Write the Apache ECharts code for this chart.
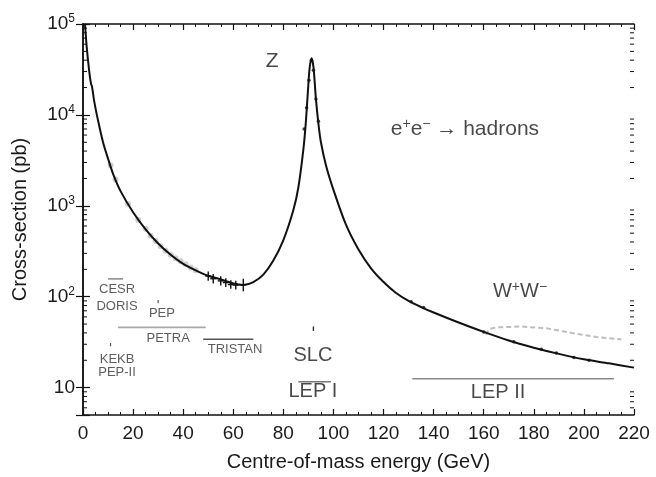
<!DOCTYPE html>
<html>
<head>
<meta charset="utf-8">
<script src="https://cdn.jsdelivr.net/npm/echarts@6/dist/echarts.min.js"></script>
<style>
  html, body { margin: 0; padding: 0; background: #fff; }
  #chart { width: 656px; height: 477px; }
</style>
</head>
<body>
<div id="chart"></div>
<script>
// e+e- -> hadrons cross-section (pb) versus centre-of-mass energy (GeV)
const energy = [0.8, 1.5, 2.5, 3.2, 3.6, 4.5, 6, 8, 10, 12, 15, 20, 25, 30, 35, 40, 45, 50, 55, 60, 64, 68, 72, 76, 80, 84, 86, 88, 89, 90, 90.5, 91.2, 92, 93, 94, 95, 97, 100, 105, 110, 115, 120, 125, 130, 135, 140, 150, 160, 170, 180, 190, 200, 210, 220];
const sigma  = [100000, 55000, 30000, 22000, 20500, 14000, 8700, 5000, 3300, 2250, 1450, 850, 550, 385, 290, 230, 195, 170, 155, 140, 135, 145, 175, 250, 420, 900, 1600, 4200, 8500, 22000, 33000, 42000, 34000, 15000, 8000, 5000, 2800, 1500, 620, 330, 205, 145, 110, 90, 77, 67, 52, 41, 33, 27.5, 23.5, 20.5, 18.5, 16.6];

// W+W- channel (grey)
const wwEnergy = [161, 162, 165, 175, 185, 195, 205, 215];
const wwSigma  = [38, 44, 46, 47, 45, 40, 36, 34];

// measured points lying on the curve
const greyPoints = [[11, 2800], [13, 1950], [18, 1050], [22, 700], [25, 560], [27, 470], [29, 410], [31, 360], [33, 320], [35, 290], [37, 265], [39, 245], [41, 228], [43, 210], [45, 195]];
const blackPoints = [[88.3, 7000], [89.3, 12000], [90.2, 24000], [91.2, 40000], [92, 31000], [93, 15000], [94, 8500], [131, 88], [136, 76], [160, 41], [172, 32], [183, 26.5], [189, 24], [196, 21.5], [202, 20]];
// [energy, low, high] error bars around the TRISTAN energies
const errorBars = [[50, 150, 190], [52, 140, 178], [55, 133, 168], [57, 128, 160], [59, 122, 152], [61, 120, 150], [64, 115, 158]];

// machine energy ranges and single-energy markers
const cesrRange    = [[10, 157], [16, 157]];
const petraRange   = [[14, 46], [49, 46]];
const tristanRange = [[48, 34], [68, 34]];
const lep1Range    = [[86, 11.6], [99, 11.6]];
const lep2Range    = [[131.5, 12.5], [212, 12.5]];
const pepMark      = [[30, 85], [30, 92]];
const kekbMark     = [[11, 28.6], [11, 31]];
const slcMark      = [[92, 42], [92, 47]];

// annotation text: [energy, sigma, text, size]
const bigLabels = [
  [75.5, 38600, 'Z', 21],
  [152.5, 7050, 'e{s|+}e{s|−} → hadrons', 21],
  [174.5, 113, 'W{s|+}W{s|−}', 20],
  [91.8, 22.3, 'SLC', 20],
  [91.8, 9.05, 'LEP I', 20],
  [165.7, 8.8, 'LEP II', 20]
];
const smallLabels = [
  [13.6, 119, 'CESR'],
  [13.6, 78, 'DORIS'],
  [31.5, 65, 'PEP'],
  [34, 35, 'PETRA'],
  [60.7, 26.5, 'TRISTAN'],
  [13.6, 20.6, 'KEKB'],
  [13.6, 14.6, 'PEP-II']
];

const xTicks = { min: 0, max: 220, interval: 20 };
const yRange = { min: 5, max: 100000 };

// log minor ticks 2..9 per decade
const minorTickValues = [];
for (let e = 0; e <= 4; e++) {
  for (let k = 2; k <= 9; k++) {
    const v = k * Math.pow(10, e);
    if (v > yRange.min && v < yRange.max) minorTickValues.push([0, v]);
  }
}

const FONT = '"Liberation Sans", Arial, sans-serif';
const INK = '#1a1a1a';
const chart = echarts.init(document.getElementById('chart'), null, { renderer: 'canvas' });

function yLabel(v) {
  const lg = Math.log10(v);
  const e = Math.round(lg);
  if (Math.abs(lg - e) > 1e-6) return '';
  if (e === 1) return '{b|10}';
  return '{b|10}{s|' + e + '}';
}

const rangeStyle = (color, w) => ({ type: 'line', symbol: 'none', silent: true, lineStyle: { color: color, width: w }, z: 3 });

const option = {
  animation: false,
  backgroundColor: '#fff',
  grid: { left: 83, right: 22, top: 24, bottom: 57 },
  xAxis: [{
    type: 'value', min: xTicks.min, max: xTicks.max, interval: xTicks.interval,
    name: 'Centre-of-mass energy (GeV)', nameLocation: 'middle', nameGap: 37,
    nameTextStyle: { fontFamily: FONT, fontSize: 20, color: INK },
    axisLine: { show: true, lineStyle: { color: '#111', width: 1.5 } },
    axisTick: { show: true, inside: true, length: 6, lineStyle: { color: '#111', width: 1.2 } },
    minorTick: { show: true, splitNumber: 4, length: 3, lineStyle: { color: '#111', width: 1 } },
    axisLabel: { fontFamily: FONT, fontSize: 19, color: INK, margin: 9 },
    splitLine: { show: false }
  }, {
    type: 'value', position: 'top', min: xTicks.min, max: xTicks.max, interval: xTicks.interval,
    axisLine: { show: true, lineStyle: { color: '#111', width: 1.5 } },
    axisTick: { show: true, inside: true, length: 6, lineStyle: { color: '#111', width: 1.2 } },
    minorTick: { show: true, splitNumber: 4, length: 3, lineStyle: { color: '#111', width: 1 } },
    axisLabel: { show: false }, splitLine: { show: false }
  }],
  yAxis: [{
    type: 'log', logBase: 10, min: yRange.min, max: yRange.max,
    name: 'Cross-section (pb)', nameLocation: 'middle', nameGap: 53,
    nameTextStyle: { fontFamily: FONT, fontSize: 20, color: INK },
    axisLine: { show: true, lineStyle: { color: '#111', width: 1.5 } },
    axisTick: { show: true, inside: true, length: 7, lineStyle: { color: '#111', width: 1.2 } },
    axisLabel: {
      fontFamily: FONT, color: INK, margin: 8, formatter: yLabel,
      rich: {
        b: { fontFamily: FONT, fontSize: 19, color: INK, lineHeight: 22 },
        s: { fontFamily: FONT, fontSize: 12, color: INK, lineHeight: 22, verticalAlign: 'top', padding: [0, 0, 9, 0] }
      }
    },
    splitLine: { show: false }
  }, {
    type: 'log', logBase: 10, min: yRange.min, max: yRange.max, position: 'right',
    axisLine: { show: true, lineStyle: { color: '#111', width: 1.5 } },
    axisTick: { show: true, inside: true, length: 7, lineStyle: { color: '#111', width: 1.2 } },
    axisLabel: { show: false }, splitLine: { show: false }
  }],
  series: [
    // log minor ticks on the left and right frame edges
    {
      type: 'custom', silent: true, z: 5,
      data: minorTickValues,
      renderItem: function (params, api) {
        const v = api.value(1);
        const pl = api.coord([xTicks.min, v]);
        const pr = api.coord([xTicks.max, v]);
        const st = { stroke: '#111', lineWidth: 1 };
        return {
          type: 'group',
          children: [
            { type: 'line', shape: { x1: pl[0], y1: pl[1], x2: pl[0] + 4, y2: pl[1] }, style: st },
            { type: 'line', shape: { x1: pr[0] - 4, y1: pr[1], x2: pr[0], y2: pr[1] }, style: st }
          ]
        };
      }
    },
    // W+W- (grey)
    {
      type: 'line', symbol: 'none', silent: true, z: 2,
      data: wwEnergy.map((e, i) => [e, wwSigma[i]]),
      lineStyle: { color: '#bdbdbd', width: 2, type: [5, 3] }
    },
    // grey measurements
    {
      type: 'scatter', silent: true, z: 2, symbol: 'circle', symbolSize: 6,
      data: greyPoints, itemStyle: { color: '#c4c4c4', opacity: 0.8 }
    },
    // main curve
    {
      type: 'line', symbol: 'none', smooth: 0.3, clip: true, silent: true, z: 4,
      data: energy.map((e, i) => [e, sigma[i]]),
      lineStyle: { color: '#111', width: 2 }
    },
    // black measurements
    {
      type: 'scatter', silent: true, z: 5, symbol: 'circle', symbolSize: 3.5,
      data: blackPoints, itemStyle: { color: '#111' }
    },
    // error bars
    {
      type: 'custom', silent: true, z: 5,
      data: errorBars,
      renderItem: function (params, api) {
        const lo = api.coord([api.value(0), api.value(1)]);
        const hi = api.coord([api.value(0), api.value(2)]);
        const mid = api.coord([api.value(0), Math.sqrt(api.value(1) * api.value(2))]);
        const st = { stroke: '#111', lineWidth: 1.4 };
        return {
          type: 'group',
          children: [
            { type: 'line', shape: { x1: lo[0], y1: lo[1], x2: hi[0], y2: hi[1] }, style: st },
            { type: 'line', shape: { x1: mid[0] - 3, y1: mid[1], x2: mid[0] + 3, y2: mid[1] }, style: st }
          ]
        };
      }
    },
    // machine ranges
    Object.assign(rangeStyle('#9a9a9a', 1.6), { data: cesrRange }),
    Object.assign(rangeStyle('#a8a8a8', 1.6), { data: petraRange }),
    Object.assign(rangeStyle('#555', 1.6), { data: tristanRange }),
    Object.assign(rangeStyle('#777', 1.6), { data: lep1Range }),
    Object.assign(rangeStyle('#8a8a8a', 1.6), { data: lep2Range }),
    Object.assign(rangeStyle('#555', 1.2), { data: pepMark }),
    Object.assign(rangeStyle('#555', 1.2), { data: kekbMark }),
    Object.assign(rangeStyle('#333', 1.4), { data: slcMark }),
    // large annotations
    {
      type: 'scatter', silent: true, symbolSize: 0, z: 6,
      data: bigLabels.map(d => ({
        value: [d[0], d[1]],
        label: {
          show: true, position: 'inside', formatter: '{b|' + d[2].replace(/\{s\|([^}]*)\}/g, '}{s|$1}{b|') + '}',
          rich: {
            b: { fontFamily: FONT, fontSize: d[3], color: INK, lineHeight: 24 },
            s: { fontFamily: FONT, fontSize: Math.round(d[3] * 0.68), color: INK, lineHeight: 24, verticalAlign: 'top', padding: [0, 0, 9, 0] }
          }
        }
      }))
    },
    // machine names
    {
      type: 'scatter', silent: true, symbolSize: 0, z: 6,
      data: smallLabels.map(d => ({ value: [d[0], d[1]], name: d[2] })),
      label: {
        show: true, position: 'inside', formatter: p => p.name,
        fontFamily: FONT, fontSize: 13, color: '#333'
      }
    }
  ]
};

chart.setOption(option);
</script>
</body>
</html>
